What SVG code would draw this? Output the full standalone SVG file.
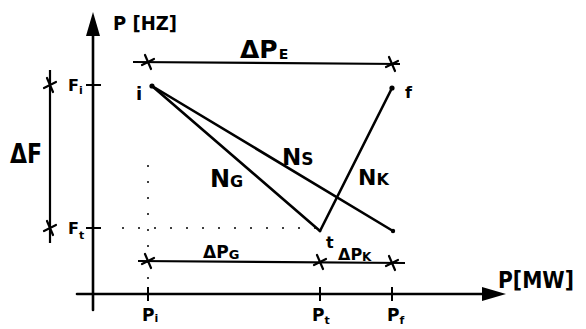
<svg xmlns="http://www.w3.org/2000/svg" width="586" height="329" viewBox="0 0 586 329">
<defs>
<style>
.ln{stroke:#000;stroke-width:2.6;fill:none;stroke-linecap:round}
.dim{stroke:#000;stroke-width:2.2;fill:none}
.dot{stroke:#000;stroke-width:1.5;fill:none;stroke-dasharray:2 14}
.t{font-family:"DejaVu Sans",sans-serif;font-weight:bold;fill:#000}
.tk{stroke:#000;stroke-width:2;fill:none}
</style>
<g id="star"><path d="M-3,-7 L3,7 M-6,3 L6,-3" stroke="#000" stroke-width="2.2" fill="none" stroke-linecap="round"/></g>
</defs>
<rect width="586" height="329" fill="#fff"/>
<g id="axes">
<line class="ln" x1="93" y1="310" x2="93" y2="30"/>
<polygon points="93,12 86,36 100,36" fill="#000"/>
<line class="ln" x1="77" y1="294" x2="488" y2="294"/>
<polygon points="506,294 482,287 482,301" fill="#000"/>
<line class="tk" x1="86" y1="85" x2="101" y2="85"/>
<line class="tk" x1="86" y1="228" x2="101" y2="228"/>
<line class="tk" x1="148" y1="287" x2="148" y2="301"/>
<line class="tk" x1="320" y1="287" x2="320" y2="301"/>
<line class="tk" x1="392" y1="287" x2="392" y2="301"/>
</g>
<g id="guides">
<line class="dot" x1="122" y1="228" x2="320" y2="228"/>
<line class="dot" x1="148" y1="165" x2="148" y2="290"/>
</g>
<g id="dimensions">
<line class="dim" x1="50" y1="70" x2="50" y2="243"/>
<use href="#star" x="50" y="85"/>
<use href="#star" x="50" y="228"/>
<line class="dim" x1="133" y1="62" x2="400" y2="64"/>
<use href="#star" x="148" y="62"/>
<use href="#star" x="392" y="64"/>
<line class="dim" x1="138" y1="261" x2="405" y2="263"/>
<use href="#star" x="148" y="261"/>
<use href="#star" x="320" y="262"/>
<use href="#star" x="392" y="263"/>
</g>
<g id="connectors">
<line class="ln" x1="152" y1="86" x2="320" y2="231"/>
<line class="ln" x1="152" y1="86" x2="393" y2="231"/>
<line class="ln" x1="320" y1="231" x2="392" y2="88"/>
<circle cx="152" cy="86" r="2.6"/>
<circle cx="392" cy="88" r="2.6"/>
<circle cx="393" cy="231" r="2.2"/>
</g>
<g id="labels">
<text class="t" x="113" y="30" font-size="19" textLength="64" lengthAdjust="spacingAndGlyphs">P [HZ]</text>
<text class="t" x="240" y="58" font-size="25">ΔP<tspan font-size="14" dx="1" dy="1">E</tspan></text>
<text class="t" x="10" y="163" font-size="26" textLength="32" lengthAdjust="spacingAndGlyphs">ΔF</text>
<text class="t" x="68" y="91" font-size="16">F<tspan font-size="11" dy="3">i</tspan></text>
<text class="t" x="68" y="234" font-size="16">F<tspan font-size="11" dy="5">t</tspan></text>
<text class="t" x="136" y="100" font-size="18">i</text>
<text class="t" x="405" y="98" font-size="16">f</text>
<text class="t" x="326" y="248" font-size="16">t</text>
<text class="t" x="210" y="187" font-size="24">N<tspan font-size="16">G</tspan></text>
<text class="t" x="282" y="165" font-size="23">N<tspan font-size="17">S</tspan></text>
<text class="t" x="358" y="185" font-size="22">N<tspan font-size="16">K</tspan></text>
<text class="t" x="203" y="258" font-size="17">ΔP<tspan font-size="13" dy="1">G</tspan></text>
<text class="t" x="338" y="260" font-size="16">ΔP<tspan font-size="12" dy="1">K</tspan></text>
<text class="t" x="142" y="321" font-size="17">P<tspan font-size="11" dy="1">i</tspan></text>
<text class="t" x="312" y="321" font-size="17">P<tspan font-size="11" dy="3">t</tspan></text>
<text class="t" x="387" y="321" font-size="17">P<tspan font-size="11" dy="3">f</tspan></text>
<text class="t" x="498" y="288" font-size="23" textLength="76" lengthAdjust="spacingAndGlyphs">P[MW]</text>
</g>
</svg>
